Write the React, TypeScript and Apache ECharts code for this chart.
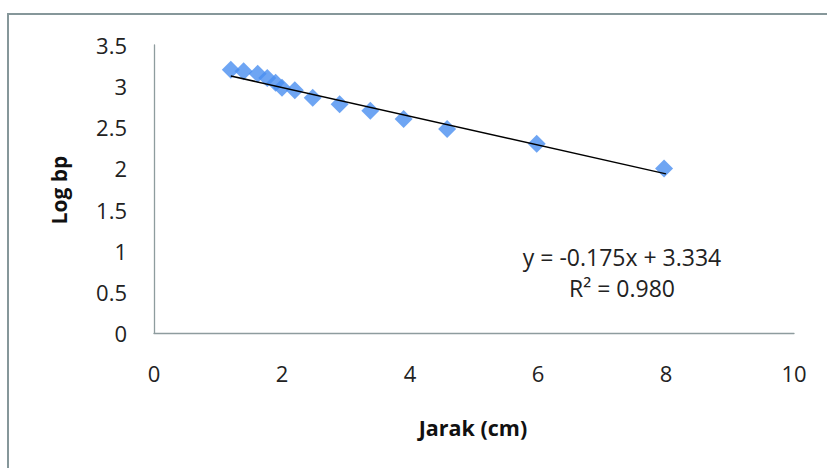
import React, { useEffect, useRef } from "react";
import * as echarts from "echarts";

const jarak = [1.2, 1.4, 1.62, 1.77, 1.9, 2.0, 2.2, 2.48, 2.9, 3.38, 3.9, 4.58, 5.98, 7.97];
const logBp = [3.2, 3.18, 3.15, 3.1, 3.04, 2.98, 2.95, 2.86, 2.78, 2.7, 2.6, 2.48, 2.3, 2.0];
const trendX = [1.2, 8.0];
const trendY = [3.124, 1.934];
const xTicks = { min: 0, max: 10, interval: 2 };
const yTicks = { min: 0, max: 3.5, interval: 0.5 };
const equationText = "y = -0.175x + 3.334";
const r2Text = "R² = 0.980";
const xTitle = "Jarak (cm)";
const yTitle = "Log bp";

export default function App() {
  const ref = useRef<HTMLDivElement>(null);
  useEffect(() => {
    document.body.style.margin = "0";
    const chart = echarts.init(ref.current!, null, { renderer: "svg" });
    const font = "'Open Sans', sans-serif";
    const axisColor = "#8e9c9e";
    chart.setOption({
      animation: false,
      backgroundColor: "#ffffff",
      grid: { left: 154, right: 33, top: 45, bottom: 135 },
      xAxis: {
        type: "value",
        ...xTicks,
        axisLine: { show: true, onZero: false, lineStyle: { color: axisColor, width: 1.3 } },
        axisTick: { show: false },
        splitLine: { show: false },
        axisLabel: { color: "#222", fontFamily: font, fontSize: 22, margin: 29 },
      },
      yAxis: {
        type: "value",
        ...yTicks,
        axisLine: { show: true, lineStyle: { color: axisColor, width: 1.3 } },
        axisTick: { show: false },
        splitLine: { show: false },
        axisLabel: { color: "#222", fontFamily: font, fontSize: 22, margin: 27 },
      },
      graphic: [
        {
          type: "rect",
          shape: { x: 8, y: 14, width: 900, height: 600 },
          style: { fill: "none", stroke: "#86979a", lineWidth: 2 },
          silent: true,
        },
        {
          type: "text",
          x: 473,
          y: 427,
          style: {
            text: xTitle,
            font: `bold 21.5px ${font}`,
            fill: "#111",
            align: "center",
            verticalAlign: "middle",
          },
        },
        {
          type: "text",
          x: 59,
          y: 190,
          rotation: Math.PI / 2,
          style: {
            text: yTitle,
            font: `bold 21px ${font}`,
            fill: "#111",
            align: "center",
            verticalAlign: "middle",
          },
        },
        {
          type: "text",
          x: 622,
          y: 257,
          style: {
            text: equationText,
            font: `23px ${font}`,
            fill: "#222",
            align: "center",
            verticalAlign: "middle",
          },
        },
        {
          type: "text",
          x: 622,
          y: 288,
          style: {
            text: r2Text,
            font: `23px ${font}`,
            fill: "#222",
            align: "center",
            verticalAlign: "middle",
          },
        },
      ],
      series: [
        {
          type: "scatter",
          data: jarak.map((x, i) => [x, logBp[i]]),
          symbol: "diamond",
          symbolSize: 18,
          itemStyle: { color: "#4a8ff0" },
          z: 2,
        },
        {
          type: "line",
          data: trendX.map((x, i) => [x, trendY[i]]),
          symbol: "none",
          lineStyle: { color: "#000", width: 1.5 },
          z: 3,
        },
      ],
    });
    return () => chart.dispose();
  }, []);
  return <div ref={ref} style={{ width: 827, height: 468 }} />;
}
